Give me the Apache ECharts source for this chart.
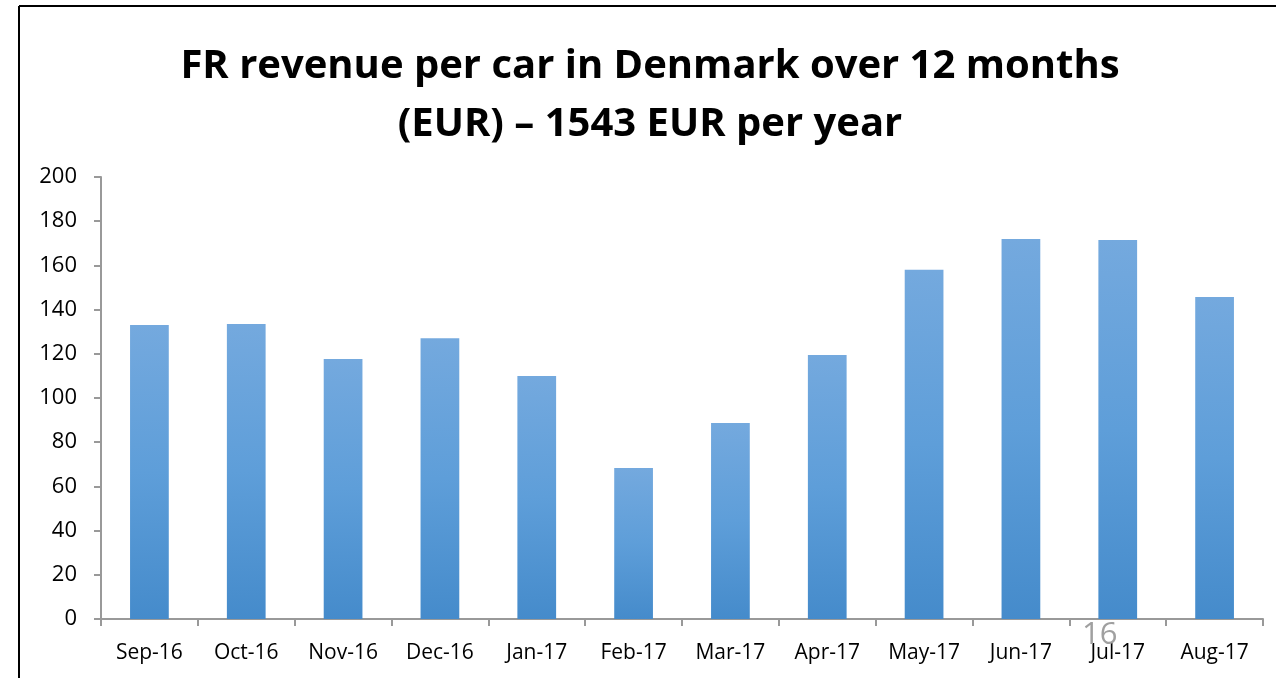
<!DOCTYPE html>
<html>
<head>
	<meta charset="utf-8" />
	<title>FR revenue per car</title>
	<script src="https://cdn.jsdelivr.net/npm/echarts@6/dist/echarts.min.js"></script>
	<style>
		html, body { margin: 0; padding: 0; background: #fff; }
		#main { width: 1276px; height: 678px; }
	</style>
</head>
<body>
	<div id="main"></div>
	<script>
		// months on the x axis
		var months = ['Sep-16', 'Oct-16', 'Nov-16', 'Dec-16', 'Jan-17', 'Feb-17',
			'Mar-17', 'Apr-17', 'May-17', 'Jun-17', 'Jul-17', 'Aug-17'];
		// revenue per car (EUR)
		var revenue = [133, 133.5, 117.6, 127, 110, 68.3, 88.7, 119.5, 158, 172, 171.5, 145.7];
		var yTicks = [0, 20, 40, 60, 80, 100, 120, 140, 160, 180, 200];

		var myChart = echarts.init(document.getElementById('main'));
		var font = '"Open Sans", "Liberation Sans", sans-serif';

		var option = {
			animation: false,
			title: {
				text: 'FR revenue per car in Denmark over 12 months\n(EUR) \u2013 1543 EUR per year',
				left: 645,
				top: 33,
				textAlign: 'center',
				textStyle: {
					fontFamily: font,
					fontWeight: 'bold',
					fontSize: 40,
					lineHeight: 58,
					color: '#000'
				}
			},
			grid: { left: 101, right: 13, top: 177, bottom: 59 },
			xAxis: {
				type: 'category',
				data: months,
				axisLine: { lineStyle: { color: '#999', width: 2 } },
				axisTick: { show: true, interval: 0, length: 7, lineStyle: { color: '#999', width: 2 } },
				axisLabel: { interval: 0, color: '#000', fontSize: 21, fontFamily: font, margin: 24 }
			},
			yAxis: {
				type: 'value',
				min: yTicks[0],
				max: yTicks[yTicks.length - 1],
				interval: 20,
				splitLine: { show: false },
				axisLine: { show: true, lineStyle: { color: '#999', width: 2 } },
				axisTick: { show: true, length: 7, lineStyle: { color: '#999', width: 2 } },
				axisLabel: { color: '#000', fontSize: 22, fontFamily: font, margin: 24 }
			},
			series: [{
				type: 'bar',
				data: revenue,
				barWidth: '40%',
				itemStyle: {
					color: new echarts.graphic.LinearGradient(0, 0, 0, 1, [
						{ offset: 0, color: '#74a9de' },
						{ offset: 0.5, color: '#5e9ed9' },
						{ offset: 1, color: '#458bcb' }
					])
				}
			}],
			graphic: [
				{ type: 'line', shape: { x1: 19, y1: 6, x2: 1276, y2: 6 }, style: { stroke: '#000', lineWidth: 2 } },
				{ type: 'line', shape: { x1: 19, y1: 6, x2: 19, y2: 678 }, style: { stroke: '#000', lineWidth: 2 } },
				{ type: 'text', left: 1082, top: 620, style: { text: '16', fontSize: 31, fontFamily: font, fill: '#a0a0a0' }, z: 10 }
			]
		};
		myChart.setOption(option);
	</script>
</body>
</html>
